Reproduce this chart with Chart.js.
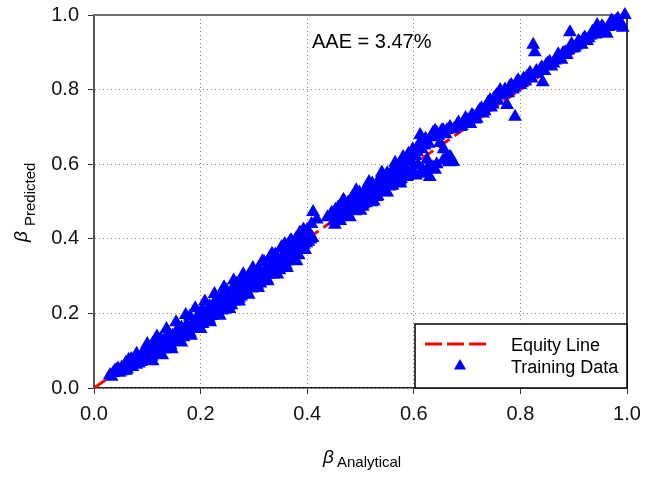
<!DOCTYPE html>
<html>
<head>
<meta charset="utf-8">
<script src="https://cdn.jsdelivr.net/npm/chart.js@4.4.1/dist/chart.umd.min.js"></script>
<style>
  html, body { margin: 0; padding: 0; background: #fff; }
  #wrap { width: 645px; height: 477px; }
</style>
</head>
<body>
<div id="wrap"><canvas id="chart"></canvas></div>
<script>
// Training data (beta analytical vs beta predicted)
const analytical = [
  0.030, 0.036, 0.042, 0.047, 0.052, 0.055, 0.060, 0.063, 0.068, 0.071,
  0.075, 0.079, 0.083, 0.086, 0.090, 0.093, 0.097, 0.100, 0.104, 0.107,
  0.110, 0.113, 0.117, 0.120, 0.123, 0.127, 0.130, 0.133, 0.137, 0.140,
  0.143, 0.147, 0.150, 0.154, 0.157, 0.160, 0.164, 0.167, 0.170, 0.174,
  0.177, 0.180, 0.183, 0.187, 0.190, 0.194, 0.197, 0.200, 0.203, 0.206,
  0.210, 0.213, 0.217, 0.220, 0.224, 0.227, 0.231, 0.234, 0.238, 0.241,
  0.245, 0.248, 0.251, 0.255, 0.258, 0.262, 0.265, 0.268, 0.272, 0.275,
  0.278, 0.282, 0.285, 0.289, 0.292, 0.296, 0.299, 0.302, 0.306, 0.309,
  0.312, 0.316, 0.319, 0.323, 0.326, 0.330, 0.333, 0.337, 0.340, 0.344,
  0.347, 0.351, 0.354, 0.358, 0.361, 0.365, 0.368, 0.372, 0.375, 0.379,
  0.382, 0.386, 0.389, 0.393, 0.396, 0.400, 0.404, 0.411, 0.418, 0.438,
  0.452, 0.448, 0.455, 0.460, 0.467, 0.472, 0.480, 0.485, 0.490, 0.495,
  0.500, 0.505, 0.512, 0.516, 0.520, 0.525, 0.530, 0.535, 0.542, 0.546,
  0.550, 0.555, 0.560, 0.563, 0.568, 0.572, 0.576, 0.580, 0.583, 0.587,
  0.592, 0.596, 0.600, 0.606, 0.608, 0.612, 0.612, 0.617, 0.620, 0.625,
  0.630, 0.636, 0.636, 0.643, 0.643, 0.649, 0.652, 0.656, 0.662, 0.662,
  0.668, 0.674, 0.681, 0.687, 0.693, 0.700, 0.706, 0.712, 0.718, 0.724,
  0.730, 0.736, 0.743, 0.748, 0.755, 0.762, 0.768, 0.775, 0.780, 0.786,
  0.790, 0.793, 0.800, 0.806, 0.812, 0.818, 0.824, 0.827, 0.830, 0.837,
  0.842, 0.848, 0.855, 0.862, 0.868, 0.874, 0.880, 0.887, 0.893, 0.898,
  0.905, 0.912, 0.918, 0.925, 0.932, 0.938, 0.944, 0.950, 0.956, 0.962,
  0.968, 0.974, 0.980, 0.985, 0.992, 0.996,
  0.033, 0.039, 0.045, 0.050, 0.058, 0.062, 0.066, 0.070, 0.073, 0.077,
  0.081, 0.085, 0.088, 0.092, 0.095, 0.099, 0.102, 0.106, 0.109, 0.112,
  0.115, 0.119, 0.122, 0.125, 0.129, 0.132, 0.135, 0.139, 0.142, 0.145,
  0.149, 0.152, 0.155, 0.159, 0.162, 0.165, 0.169, 0.172, 0.175, 0.179,
  0.182, 0.185, 0.189, 0.192, 0.195, 0.199, 0.202, 0.205, 0.208, 0.212,
  0.215, 0.219, 0.222, 0.226, 0.229, 0.232, 0.236, 0.239, 0.243, 0.246,
  0.250, 0.253, 0.257, 0.260, 0.263, 0.267, 0.270, 0.273, 0.277, 0.280,
  0.284, 0.287, 0.291, 0.294, 0.298, 0.301, 0.304, 0.308, 0.311, 0.314,
  0.318, 0.321, 0.325, 0.328, 0.331, 0.335, 0.338, 0.342, 0.345, 0.349,
  0.352, 0.356, 0.359, 0.363, 0.366, 0.370, 0.373, 0.377, 0.380, 0.384,
  0.387, 0.391, 0.394, 0.398, 0.402, 0.406, 0.410, 0.408, 0.446, 0.450,
  0.453, 0.457, 0.462, 0.465, 0.470, 0.474, 0.477, 0.482, 0.487, 0.492,
  0.497, 0.502, 0.507, 0.510, 0.514, 0.518, 0.523, 0.527, 0.532, 0.537,
  0.540, 0.544, 0.548, 0.552, 0.557, 0.562, 0.565, 0.570, 0.574, 0.578,
  0.582, 0.585, 0.590, 0.594, 0.598, 0.603, 0.610, 0.615, 0.622, 0.628,
  0.633, 0.640, 0.646, 0.655, 0.660, 0.668, 0.675, 0.684, 0.690, 0.697,
  0.703, 0.709, 0.715, 0.721, 0.727, 0.733, 0.739, 0.745, 0.751, 0.758,
  0.765, 0.771, 0.777, 0.783, 0.789, 0.796, 0.803, 0.809, 0.815, 0.821,
  0.833, 0.840, 0.845, 0.851, 0.858, 0.865, 0.871, 0.877, 0.884, 0.890,
  0.896, 0.902, 0.909, 0.915, 0.921, 0.928, 0.935, 0.941, 0.947, 0.953,
  0.959, 0.965, 0.971, 0.977, 0.983, 0.988, 0.604, 0.622, 0.626, 0.640,
  0.655, 0.666, 0.670,
  0.060, 0.072, 0.084, 0.096, 0.108, 0.120, 0.132, 0.144, 0.156, 0.168,
  0.180, 0.192, 0.204, 0.216, 0.228, 0.240, 0.252, 0.264, 0.276, 0.288,
  0.300, 0.312, 0.324, 0.336, 0.348, 0.360, 0.372, 0.384, 0.396, 0.462,
  0.476, 0.490, 0.504, 0.518, 0.532, 0.546, 0.560, 0.574, 0.588, 0.458,
  0.470, 0.484, 0.498, 0.510, 0.522, 0.536, 0.550, 0.563, 0.576, 0.065,
  0.080, 0.095, 0.110, 0.125, 0.140,
  0.100, 0.118, 0.136, 0.154, 0.172, 0.190, 0.208, 0.226, 0.244, 0.262,
  0.280, 0.298, 0.316, 0.334, 0.352, 0.370, 0.388, 0.110, 0.128, 0.146,
  0.164, 0.182, 0.200, 0.218, 0.236, 0.254, 0.272, 0.290, 0.308, 0.326,
  0.344, 0.362, 0.380, 0.468, 0.492, 0.516, 0.540, 0.565, 0.590, 0.500,
  0.525, 0.550, 0.575
];
const predicted = [
  0.035, 0.040, 0.048, 0.041, 0.055, 0.046, 0.068, 0.058, 0.072, 0.063,
  0.068, 0.062, 0.080, 0.070, 0.086, 0.077, 0.092, 0.084, 0.100, 0.090,
  0.107, 0.094, 0.102, 0.117, 0.098, 0.112, 0.127, 0.110, 0.122, 0.134,
  0.115, 0.140, 0.127, 0.150, 0.132, 0.146, 0.162, 0.140, 0.155, 0.170,
  0.150, 0.192, 0.166, 0.176, 0.160, 0.185, 0.200, 0.172, 0.210, 0.188,
  0.180, 0.204, 0.220, 0.194, 0.212, 0.232, 0.200, 0.240, 0.218, 0.250,
  0.210, 0.262, 0.232, 0.244, 0.222, 0.272, 0.252, 0.280, 0.240, 0.290,
  0.264, 0.277, 0.252, 0.298, 0.282, 0.267, 0.310, 0.292, 0.277, 0.322,
  0.307, 0.290, 0.338, 0.320, 0.303, 0.350, 0.333, 0.315, 0.358, 0.343,
  0.330, 0.374, 0.355, 0.386, 0.340, 0.375, 0.394, 0.358, 0.385, 0.400,
  0.380, 0.416, 0.400, 0.425, 0.408, 0.424, 0.415, 0.472, 0.452, 0.458,
  0.438, 0.462, 0.470, 0.458, 0.496, 0.482, 0.458, 0.490, 0.500, 0.478,
  0.505, 0.492, 0.504, 0.520, 0.498, 0.526, 0.512, 0.540, 0.539, 0.525,
  0.555, 0.540, 0.568, 0.552, 0.593, 0.575, 0.560, 0.619, 0.590, 0.566,
  0.605, 0.580, 0.630, 0.633, 0.598, 0.678, 0.576, 0.584, 0.650, 0.612,
  0.566, 0.684, 0.592, 0.684, 0.600, 0.657, 0.690, 0.640, 0.692, 0.619,
  0.620, 0.606, 0.705, 0.700, 0.712, 0.718, 0.708, 0.728, 0.722, 0.745,
  0.736, 0.755, 0.772, 0.760, 0.785, 0.799, 0.790, 0.759, 0.808, 0.800,
  0.727, 0.820, 0.812, 0.830, 0.834, 0.845, 0.920, 0.900, 0.850, 0.853,
  0.820, 0.865, 0.875, 0.870, 0.885, 0.887, 0.898, 0.893, 0.954, 0.910,
  0.918, 0.925, 0.935, 0.930, 0.945, 0.952, 0.973, 0.955, 0.965, 0.950,
  0.975, 0.979, 0.985, 0.972, 0.966, 1.000,
  0.030, 0.046, 0.052, 0.044, 0.062, 0.050, 0.064, 0.078, 0.070, 0.066,
  0.072, 0.078, 0.070, 0.080, 0.086, 0.076, 0.090, 0.084, 0.094, 0.098,
  0.100, 0.108, 0.104, 0.112, 0.116, 0.110, 0.122, 0.118, 0.126, 0.124,
  0.132, 0.128, 0.140, 0.136, 0.146, 0.142, 0.150, 0.155, 0.152, 0.160,
  0.158, 0.166, 0.162, 0.172, 0.168, 0.176, 0.172, 0.184, 0.180, 0.188,
  0.192, 0.198, 0.194, 0.205, 0.210, 0.204, 0.215, 0.220, 0.214, 0.226,
  0.230, 0.236, 0.232, 0.242, 0.246, 0.240, 0.252, 0.256, 0.250, 0.262,
  0.266, 0.272, 0.268, 0.278, 0.282, 0.276, 0.288, 0.292, 0.286, 0.298,
  0.302, 0.308, 0.304, 0.314, 0.318, 0.312, 0.325, 0.330, 0.322, 0.335,
  0.338, 0.344, 0.340, 0.350, 0.356, 0.348, 0.360, 0.366, 0.360, 0.372,
  0.376, 0.380, 0.384, 0.388, 0.392, 0.398, 0.402, 0.440, 0.470, 0.448,
  0.478, 0.462, 0.480, 0.468, 0.490, 0.470, 0.498, 0.478, 0.505, 0.488,
  0.512, 0.498, 0.516, 0.495, 0.528, 0.512, 0.534, 0.520, 0.548, 0.528,
  0.552, 0.545, 0.562, 0.548, 0.575, 0.560, 0.582, 0.565, 0.598, 0.578,
  0.605, 0.612, 0.622, 0.612, 0.640, 0.622, 0.655, 0.640, 0.668, 0.655,
  0.672, 0.690, 0.676, 0.692, 0.680, 0.700, 0.694, 0.712, 0.702, 0.724,
  0.715, 0.732, 0.720, 0.740, 0.750, 0.742, 0.765, 0.752, 0.778, 0.770,
  0.785, 0.800, 0.790, 0.812, 0.805, 0.825, 0.818, 0.822, 0.838, 0.830,
  0.842, 0.860, 0.850, 0.870, 0.862, 0.878, 0.895, 0.880, 0.900, 0.905,
  0.922, 0.912, 0.930, 0.920, 0.940, 0.938, 0.955, 0.948, 0.962, 0.970,
  0.958, 0.968, 0.985, 0.970, 0.990, 0.980, 0.570, 0.575, 0.590, 0.585,
  0.610, 0.605, 0.615,
  0.046, 0.056, 0.066, 0.076, 0.084, 0.094, 0.104, 0.114, 0.124, 0.136,
  0.148, 0.160, 0.172, 0.184, 0.196, 0.208, 0.220, 0.232, 0.245, 0.256,
  0.268, 0.280, 0.292, 0.304, 0.316, 0.330, 0.342, 0.356, 0.370, 0.448,
  0.462, 0.474, 0.486, 0.500, 0.514, 0.528, 0.542, 0.556, 0.570, 0.484,
  0.498, 0.510, 0.524, 0.536, 0.548, 0.562, 0.576, 0.590, 0.604, 0.076,
  0.092, 0.104, 0.118, 0.132, 0.146,
  0.118, 0.138, 0.158, 0.176, 0.196, 0.214, 0.232, 0.252, 0.270, 0.288,
  0.305, 0.322, 0.340, 0.360, 0.378, 0.396, 0.414, 0.072, 0.088, 0.104,
  0.122, 0.140, 0.158, 0.176, 0.194, 0.212, 0.232, 0.250, 0.268, 0.286,
  0.304, 0.322, 0.340, 0.505, 0.530, 0.552, 0.578, 0.604, 0.628, 0.475,
  0.500, 0.524, 0.548
];
const equityX = [0, 1];
const equityY = [0, 1];
const tickValues = [0, 0.2, 0.4, 0.6, 0.8, 1.0];
const aaeLabel = "AAE = 3.47%";
const legendLabels = ["Equity Line", "Training Data"];

const FONT = "'Liberation Sans', Arial, sans-serif";

const trainingPoints = analytical.map((x, i) => ({ x: x, y: predicted[i] }));
const equityPoints = equityX.map((x, i) => ({ x: x, y: equityY[i] }));

const drawTriangle = (ctx, x, y, r) => {
  const s = Math.sin(Math.PI / 3) * r;
  ctx.beginPath();
  ctx.moveTo(x, y - r);
  ctx.lineTo(x + s, y + r / 2);
  ctx.lineTo(x - s, y + r / 2);
  ctx.closePath();
  ctx.fill();
};

// frame on top/right, drawn under the markers
const framePlugin = {
  id: "frame",
  beforeDatasetsDraw(chart) {
    const ctx = chart.ctx;
    const a = chart.chartArea;
    ctx.save();
    ctx.strokeStyle = "#6e6e6e";
    ctx.lineWidth = 2;
    ctx.beginPath();
    ctx.moveTo(a.left, a.top);
    ctx.lineTo(a.right, a.top);
    ctx.stroke();
    ctx.strokeStyle = "#000";
    ctx.lineWidth = 1.5;
    ctx.beginPath();
    ctx.moveTo(a.right, a.top);
    ctx.lineTo(a.right, a.bottom);
    ctx.stroke();
    ctx.restore();
  },
};

// annotation, legend box, axis titles with subscripts
const extrasPlugin = {
  id: "extras",
  afterDraw(chart) {
    const ctx = chart.ctx;
    const a = chart.chartArea;
    ctx.save();
    ctx.fillStyle = "#000";
    ctx.textBaseline = "alphabetic";
    ctx.textAlign = "left";

    // AAE text
    ctx.font = "20px " + FONT;
    ctx.fillText(aaeLabel, 312, 48);

    // legend box
    const bx = a.right - 212, by = a.bottom - 64;
    ctx.fillStyle = "#fff";
    ctx.fillRect(bx, by, a.right - bx, a.bottom - by);
    ctx.strokeStyle = "#000";
    ctx.lineWidth = 1.5;
    ctx.strokeRect(bx, by, a.right - bx, a.bottom - by);

    ctx.strokeStyle = "#ff0000";
    ctx.lineWidth = 3;
    ctx.setLineDash([17, 5]);
    ctx.beginPath();
    ctx.moveTo(bx + 10, by + 20);
    ctx.lineTo(bx + 72, by + 20);
    ctx.stroke();
    ctx.setLineDash([]);

    ctx.fillStyle = "#0000ff";
    drawTriangle(ctx, bx + 45, by + 42, 7);

    ctx.fillStyle = "#000";
    ctx.font = "18px " + FONT;
    ctx.fillText(legendLabels[0], bx + 96, by + 27);
    ctx.fillText(legendLabels[1], bx + 96, by + 49);

    // x title
    ctx.font = "italic 19px " + FONT;
    ctx.fillText("\u03b2", 323, 463);
    ctx.font = "15px " + FONT;
    ctx.fillText("Analytical", 337, 467);

    // y title
    ctx.translate(27, 242);
    ctx.rotate(-Math.PI / 2);
    ctx.font = "italic 19px " + FONT;
    ctx.fillText("\u03b2", 0, 0);
    ctx.font = "15px " + FONT;
    ctx.fillText("Predicted", 16, 8);
    ctx.restore();
  },
};

const axisTicks = {
  callback: (v) => v.toFixed(1),
  font: { family: FONT, size: 20 },
  color: "#111",
  maxRotation: 0,
};

// keep the plot box fixed: no extra padding from tick label overhang
const noOverhang = (s) => {
  s.paddingTop = 0;
  s.paddingBottom = 0;
  s.paddingLeft = 0;
  s.paddingRight = 0;
};

new Chart(document.getElementById("chart"), {
  type: "scatter",
  data: {
    datasets: [
      {
        label: legendLabels[0],
        type: "line",
        data: equityPoints,
        borderColor: "#ff0000",
        borderWidth: 3,
        borderDash: [14, 6],
        pointRadius: 0,
        fill: false,
        order: 1,
      },
      {
        label: legendLabels[1],
        data: trainingPoints,
        pointStyle: "triangle",
        pointRadius: 8,
        backgroundColor: "#0000ff",
        borderColor: "#0000ff",
        borderWidth: 0,
        clip: false,
        order: 0,
      },
    ],
  },
  options: {
    responsive: true,
    maintainAspectRatio: false,
    animation: false,
    layout: { autoPadding: false, padding: { top: 15, right: 18, bottom: 0, left: 0 } },
    plugins: {
      legend: { display: false },
      tooltip: { enabled: false },
    },
    scales: {
      x: {
        type: "linear",
        min: 0,
        max: 1,
        afterBuildTicks: (s) => { s.ticks = tickValues.map((v) => ({ value: v })); },
        afterFit: (s) => { s.height = 89; noOverhang(s); },
        ticks: { ...axisTicks, padding: 8 },
        grid: { color: "#888", tickColor: "#333", tickLength: 6, lineWidth: 1 },
        border: { color: "#222", width: 1.5, dash: [1, 3] },
      },
      y: {
        type: "linear",
        min: 0,
        max: 1,
        afterBuildTicks: (s) => { s.ticks = tickValues.map((v) => ({ value: v })); },
        afterFit: (s) => { s.width = 94; noOverhang(s); },
        ticks: { ...axisTicks, padding: 9 },
        grid: { color: "#888", tickColor: "#333", tickLength: 6, lineWidth: 1 },
        border: { color: "#555", width: 2, dash: [1, 3] },
      },
    },
  },
  plugins: [framePlugin, extrasPlugin],
});
</script>
</body>
</html>
